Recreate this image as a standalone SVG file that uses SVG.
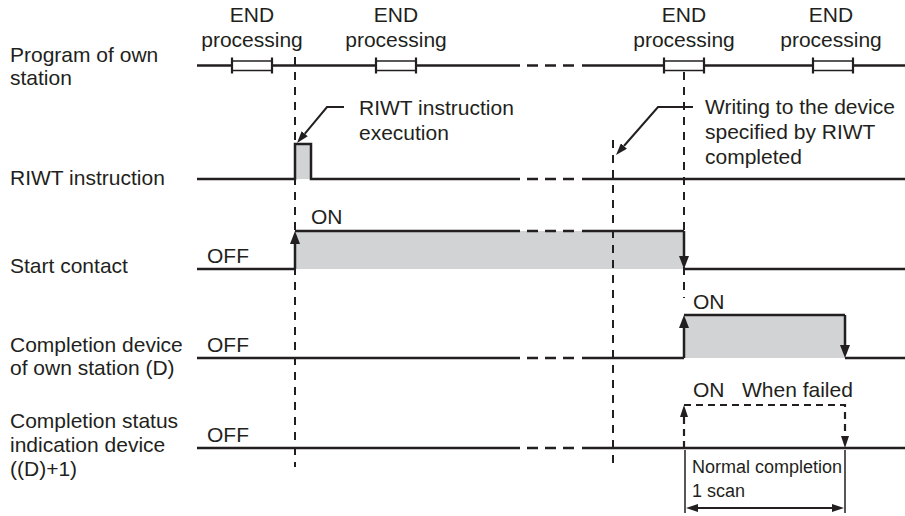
<svg xmlns="http://www.w3.org/2000/svg" width="905" height="516" viewBox="0 0 905 516">
<defs>
<style>
text{font-family:"Liberation Sans",Arial,sans-serif;font-size:21px;fill:#231f20}
.small{font-size:18px}
.mid{text-anchor:middle}
.sig{fill:none;stroke:#231f20;stroke-width:2.5}
.dsig{fill:none;stroke:#231f20;stroke-width:2.5;stroke-dasharray:11 7}
.vd{fill:none;stroke:#231f20;stroke-width:2;stroke-dasharray:8 7}
.thin{fill:none;stroke:#231f20;stroke-width:1.5}
.fill{fill:#d1d3d4;stroke:none}
.box{fill:#fff;stroke:#231f20;stroke-width:1.5}
.tick{stroke:#231f20;stroke-width:2.2}
</style>
<marker id="ah" viewBox="0 0 13 10" refX="0" refY="5" markerWidth="13" markerHeight="10" markerUnits="userSpaceOnUse" orient="auto"><path d="M0,0 L13,5 L0,10 z" fill="#231f20"/></marker>
<marker id="as" viewBox="0 0 12 8" refX="0" refY="4" markerWidth="12" markerHeight="8" markerUnits="userSpaceOnUse" orient="auto"><path d="M0,0 L12,4 L0,8 z" fill="#231f20"/></marker>
<marker id="asr" viewBox="0 0 12 8" refX="0" refY="4" markerWidth="12" markerHeight="8" markerUnits="userSpaceOnUse" orient="auto-start-reverse"><path d="M0,0 L12,4 L0,8 z" fill="#231f20"/></marker>
</defs>

<g id="labels">
<text x="10" y="62">Program of own</text>
<text x="10" y="85">station</text>
<text x="10" y="185">RIWT instruction</text>
<text x="10" y="273">Start contact</text>
<text x="10" y="352">Completion device</text>
<text x="10" y="375">of own station (D)</text>
<text x="10" y="428">Completion status</text>
<text x="10" y="452">indication device</text>
<text x="10" y="476">((D)+1)</text>
</g>

<g id="end-labels">
<text class="mid" x="252" y="22">END</text><text class="mid" x="252" y="47">processing</text>
<text class="mid" x="396" y="22">END</text><text class="mid" x="396" y="47">processing</text>
<text class="mid" x="684" y="22">END</text><text class="mid" x="684" y="47">processing</text>
<text class="mid" x="831" y="22">END</text><text class="mid" x="831" y="47">processing</text>
</g>

<g id="program">
<path class="sig" d="M197,65.5 H520 M582,65.5 H905"/>
<path class="dsig" d="M527,65.5 H575"/>
<rect class="box" x="232" y="61" width="40" height="9.5"/>
<rect class="box" x="376" y="61" width="40" height="9.5"/>
<rect class="box" x="664" y="61" width="40" height="9.5"/>
<rect class="box" x="813" y="61" width="40" height="9.5"/>
<path class="tick" d="M232,57.5 V73.5 M272,57.5 V73.5 M376,57.5 V73.5 M416,57.5 V73.5 M664,57.5 V73.5 M704,57.5 V73.5 M813,57.5 V73.5 M853,57.5 V73.5"/>
</g>

<g id="riwt">
<rect class="fill" x="295" y="144" width="16" height="35"/>
<path class="sig" d="M197,179 H295 V144 H311 V179 H520 M582,179 H905"/>
<path class="dsig" d="M527,179 H575"/>
</g>

<g id="start-contact">
<rect class="fill" x="295" y="231" width="389" height="38"/>
<path class="sig" d="M197,269 H295 M295,231 H520 M582,231 H684 M684,269 H905"/>
<path class="dsig" d="M527,231 H575"/>
<text x="207" y="263">OFF</text>
<text x="311" y="224">ON</text>
</g>

<g id="completion-device">
<rect class="fill" x="684" y="315" width="161" height="43"/>
<path class="sig" d="M197,358 H520 M582,358 H684 M684,315 H845 M845,358 H905"/>
<path class="dsig" d="M527,358 H575"/>
<text x="207" y="352">OFF</text>
<text x="693" y="309">ON</text>
</g>

<g id="completion-status">
<path class="sig" d="M197,448 H520 M582,448 H905"/>
<path class="dsig" d="M527,448 H575"/>
<text x="207" y="442">OFF</text>
<text x="693" y="397">ON</text>
<text x="742" y="397">When failed</text>
<text class="small" x="692" y="473">Normal completion</text>
<text class="small" x="692" y="497">1 scan</text>
</g>

<g id="annotations">
<text x="359" y="115">RIWT instruction</text>
<text x="359" y="140">execution</text>
<text x="705" y="114">Writing to the device</text>
<text x="705" y="139">specified by RIWT</text>
<text x="705" y="164">completed</text>
</g>

<g id="connectors">
<path class="vd" d="M295,57 V467"/>
<path class="vd" d="M613,140 V467"/>
<path class="vd" d="M684,72 V298"/>
<path class="sig" d="M295,269 V244" marker-end="url(#ah)"/>
<path class="sig" d="M684,231 V256" marker-end="url(#ah)"/>
<path class="sig" d="M684,358 V328" marker-end="url(#ah)"/>
<path class="sig" d="M845,315 V345" marker-end="url(#ah)"/>
<path class="vd" style="stroke-width:2.2;stroke-dasharray:7 5" d="M684,448 V417" marker-end="url(#as)"/>
<path class="vd" style="stroke-width:2.2;stroke-dasharray:7 5" d="M684,405 H845 V436" marker-end="url(#as)"/>
<path class="thin" d="M685,450 V513 M845,450 V513"/>
<path class="sig" style="stroke-width:2" d="M698,508 H832" marker-start="url(#asr)" marker-end="url(#as)"/>
<path class="sig" style="stroke-width:2" d="M344,107 H327 L304.7,133.8" marker-end="url(#as)"/>
<path class="sig" style="stroke-width:2" d="M693,107 H658 L623.9,146" marker-end="url(#as)"/>
</g>
</svg>
